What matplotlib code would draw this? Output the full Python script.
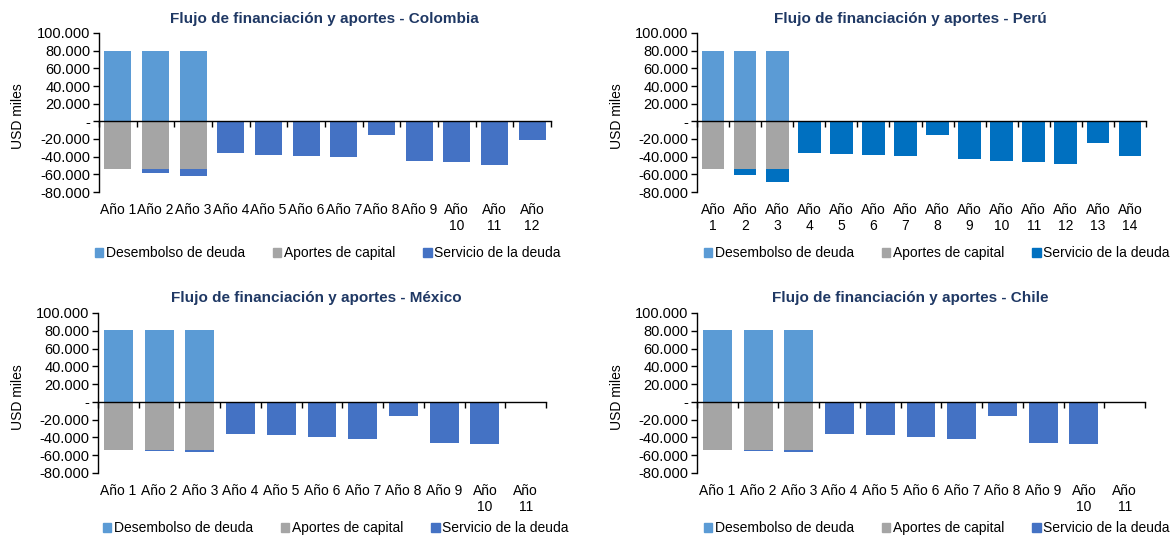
import numpy as np
import matplotlib
matplotlib.use("Agg")
import matplotlib.pyplot as plt
from matplotlib.ticker import FuncFormatter
from matplotlib.patches import Patch

plt.rcParams['font.family'] = ['Liberation Sans', 'DejaVu Sans']

# ---------------- data ----------------
series_names = ["Desembolso de deuda", "Aportes de capital", "Servicio de la deuda"]

col_labels = ["Año 1", "Año 2", "Año 3", "Año 4", "Año 5", "Año 6", "Año 7", "Año 8", "Año 9",
              "Año\n10", "Año\n11", "Año\n12"]
col_desembolso = [80000, 80000, 80000, 0, 0, 0, 0, 0, 0, 0, 0, 0]
col_aportes = [-53500, -53800, -53800, 0, 0, 0, 0, 0, 0, 0, 0, 0]
col_servicio = [0, -4800, -8300, -36000, -38300, -39500, -40600, -16000, -44400, -46600, -48900, -21600]

peru_labels = ["Año\n1", "Año\n2", "Año\n3", "Año\n4", "Año\n5", "Año\n6", "Año\n7", "Año\n8",
               "Año\n9", "Año\n10", "Año\n11", "Año\n12", "Año\n13", "Año\n14"]
peru_desembolso = [80000, 80000, 80000, 0, 0, 0, 0, 0, 0, 0, 0, 0, 0, 0]
peru_aportes = [-53700, -53700, -53700, 0, 0, 0, 0, 0, 0, 0, 0, 0, 0, 0]
peru_servicio = [0, -7300, -15500, -36000, -37300, -38500, -39600, -15900, -43200, -44600,
                 -46600, -47800, -24000, -39500]

mex_labels = ["Año 1", "Año 2", "Año 3", "Año 4", "Año 5", "Año 6", "Año 7", "Año 8", "Año 9",
              "Año\n10", "Año\n11"]
mex_desembolso = [80500, 80500, 80500, 0, 0, 0, 0, 0, 0, 0, 0]
mex_aportes = [-54000, -54300, -54600, 0, 0, 0, 0, 0, 0, 0, 0]
mex_servicio = [0, -700, -1700, -36100, -37600, -39700, -42200, -16100, -45800, -47900, 0]

chi_labels = ["Año 1", "Año 2", "Año 3", "Año 4", "Año 5", "Año 6", "Año 7", "Año 8", "Año 9",
              "Año\n10", "Año\n11"]
chi_desembolso = [80500, 80500, 80500, 0, 0, 0, 0, 0, 0, 0, 0]
chi_aportes = [-54000, -54300, -54600, 0, 0, 0, 0, 0, 0, 0, 0]
chi_servicio = [0, -700, -1700, -36100, -37600, -39700, -42200, -16100, -45800, -47900, 0]

titles = ["Flujo de financiación y aportes - Colombia",
          "Flujo de financiación y aportes - Perú",
          "Flujo de financiación y aportes - México",
          "Flujo de financiación y aportes - Chile"]

# ---------------- style ----------------
C_DES = "#5B9BD5"
C_APO = "#A5A5A5"
C_SER = "#4472C4"
C_SER_PERU = "#0070C0"
C_TITLE = "#1F3864"

W, H = 1176, 538
fig = plt.figure(figsize=(W / 100, H / 100), dpi=100)


def rect(left, right, top, bottom):
    return [left / W, 1 - bottom / H, (right - left) / W, (bottom - top) / H]


def yfmt(v, pos):
    if abs(v) < 1e-9:
        return "-"
    s = f"{abs(int(round(v))):,}".replace(",", ".")
    return ("-" if v < 0 else "") + s


panels = [
    dict(r=(99, 551, 33, 192), labels=col_labels, des=col_desembolso, apo=col_aportes,
         ser=col_servicio, cser=C_SER, title=titles[0], tx=324, ty=19, lx=328, ly=253, ylx=18),
    dict(r=(697, 1146, 33, 192), labels=peru_labels, des=peru_desembolso, apo=peru_aportes,
         ser=peru_servicio, cser=C_SER_PERU, title=titles[1], tx=910, ty=19, lx=937, ly=253, ylx=617),
    dict(r=(98, 546, 313, 473), labels=mex_labels, des=mex_desembolso, apo=mex_aportes,
         ser=mex_servicio, cser=C_SER, title=titles[2], tx=316, ty=298, lx=336, ly=528, ylx=18),
    dict(r=(697, 1145, 313, 473), labels=chi_labels, des=chi_desembolso, apo=chi_aportes,
         ser=chi_servicio, cser=C_SER, title=titles[3], tx=910, ty=298, lx=937, ly=528, ylx=617),
]

for p in panels:
    ax = fig.add_axes(rect(*p["r"]))
    n = len(p["labels"])
    x = np.arange(n)
    des = np.array(p["des"], dtype=float)
    apo = np.array(p["apo"], dtype=float)
    ser = np.array(p["ser"], dtype=float)
    w = 0.71
    ax.bar(x, des, width=w, color=C_DES, zorder=2)
    ax.bar(x, apo, width=w, color=C_APO, zorder=2)
    ax.bar(x, ser, width=w, bottom=apo, color=p["cser"], zorder=2)

    ax.set_xlim(-0.5, n - 0.5)
    ax.set_ylim(-80000, 100000)
    ax.set_yticks(np.arange(-80000, 100001, 20000))
    ax.yaxis.set_major_formatter(FuncFormatter(yfmt))
    ax.tick_params(axis='y', length=4, width=1, pad=2, labelsize=10.5, colors='black')

    for s in ("top", "right"):
        ax.spines[s].set_visible(False)
    ax.spines["left"].set_linewidth(1.0)
    ax.spines["bottom"].set_position(("data", 0))
    ax.spines["bottom"].set_linewidth(1.0)
    ax.spines["bottom"].set_zorder(3)
    ax.set_xticks(np.arange(n + 1) - 0.5)
    ax.set_xticklabels([])
    ax.tick_params(axis='x', length=4, width=1, direction='out')

    sec = ax.secondary_xaxis('bottom')
    sec.set_xticks(x)
    sec.set_xticklabels(p["labels"], fontsize=10, linespacing=1.15)
    sec.tick_params(length=0, pad=8)
    sec.spines["bottom"].set_visible(False)

    l, r, t, b = p["r"]
    fig.text(p["ylx"] / W, 1 - ((t + b) / 2 + 4) / H, "USD miles", rotation=90,
             ha="center", va="center", fontsize=10)
    fig.text(p["tx"] / W, 1 - p["ty"] / H, p["title"], ha="center", va="center",
             fontsize=11, fontweight="bold", color=C_TITLE)

    handles = [Patch(color=C_DES), Patch(color=C_APO), Patch(color=p["cser"])]
    fig.legend(handles, series_names, loc="center", ncol=3, frameon=False,
               bbox_to_anchor=(p["lx"] / W, 1 - p["ly"] / H), fontsize=10,
               handlelength=0.6, handleheight=0.6, handletextpad=0.2, columnspacing=2.0,
               borderaxespad=0, borderpad=0)

fig.savefig("out.png", dpi=100)
